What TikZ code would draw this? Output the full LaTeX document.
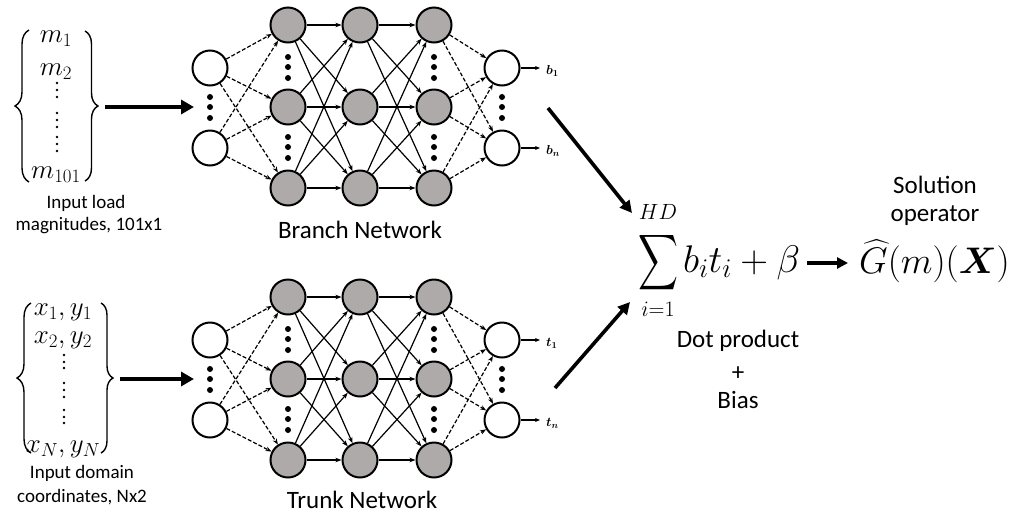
\RequirePackage{fix-cm}
\documentclass[tikz,border=0pt]{standalone}
\usepackage{amsmath}
\usepackage{bm}
\usepackage[no-math]{fontspec}
\setmainfont{Carlito}
\usetikzlibrary{arrows.meta,decorations.pathreplacing}
\definecolor{hid}{RGB}{174,170,170}
\begin{document}
\begin{tikzpicture}[x=1pt,y=-1pt,
  neuron/.style={circle, draw, line width=2pt, minimum size=35pt, inner sep=0pt, fill=white},
  hidden/.style={neuron, fill=hid},
  edge/.style={line width=1.2pt, -{Stealth[length=6pt,width=4.5pt]}},
  dedge/.style={edge, dash pattern=on 4pt off 2pt},
  bigarrow/.style={line width=4pt, -{Triangle[length=13pt,width=14pt]}},
  sumarrow/.style={line width=3.6pt, -{Triangle[length=12pt,width=12pt]}},
  outarrow/.style={line width=1.2pt, -{Stealth[length=5pt,width=4pt]}},
  lbl/.style={font=\fontsize{25}{30}\selectfont, inner sep=0pt, anchor=base},
  small/.style={font=\fontsize{19}{22}\selectfont, inner sep=0pt, anchor=base},
  vec/.style={font=\fontsize{27}{30}\selectfont, inner sep=0pt, anchor=base},
  outl/.style={font=\fontsize{13}{15}\selectfont, inner sep=0pt, anchor=west},
  brc/.style={decorate, line width=1.4pt},
  vdot/.style={fill, circle, inner sep=0pt, minimum size=2.8pt},
  bdot/.style={fill, circle, inner sep=0pt, minimum size=6pt}
]
\useasboundingbox (0,0) rectangle (1014,515);

% ---------- networks ----------
\foreach \n/\o/\l in {B/0/b, T/272/t}{
  \node[neuron] (\n0a) at (210,68+\o) {};
  \node[neuron] (\n0b) at (210,148+\o) {};
  \foreach \k/\x in {1/288,2/360,3/434}{
    \node[hidden] (\n\k a) at (\x,25+\o) {};
    \node[hidden] (\n\k b) at (\x,107+\o) {};
    \node[hidden] (\n\k c) at (\x,188+\o) {};
  }
  \node[neuron] (\n4a) at (502,68+\o) {};
  \node[neuron] (\n4b) at (502,148+\o) {};
  % edges
  \foreach \i in {a,b}{
    \foreach \j in {a,b,c}{
      \draw[dedge] (\n0\i) -- (\n1\j);
      \draw[dedge] (\n3\j) -- (\n4\i);
    }
  }
  \foreach \i in {a,b,c}{
    \foreach \j in {a,b,c}{
      \draw[edge] (\n1\i) -- (\n2\j);
      \draw[edge] (\n2\i) -- (\n3\j);
    }
  }
  % dots
  \foreach \y in {97,107,118}{
    \node[bdot] (\n d0\y) at (210,\y+\o) {};
    \node[bdot] (\n d4\y) at (502,\y+\o) {};
  }
  \foreach \y in {57,67,78,137,147,158}{
    \node[bdot] (\n d1\y) at (288,\y+\o) {};
    \node[bdot] (\n d3\y) at (434,\y+\o) {};
  }
  % outputs
  \coordinate (\n oa) at (540,68+\o);
  \coordinate (\n ob) at (540,148+\o);
  \draw[outarrow] (\n4a) -- (\n oa);
  \draw[outarrow] (\n4b) -- (\n ob);
  \node[outl] (\n la) at (546,71+\o) {$\bm{\l}_{\bm{1}}$};
  \node[outl] (\n lb) at (546,151+\o) {$\bm{\l}_{\bm{n}}$};
}

\node[lbl] (bn) at (360,238) {Branch Network};
\node[lbl] (tn) at (362,508) {Trunk Network};

% ---------- input vector 1 ----------
\node[vec] (m1) at (56,42) {$m_1$};
\node[vec] (m2) at (56,75) {$m_2$};
\node[vec] (m101) at (56,178) {$m_{101}$};
\foreach \y in {83,90,97,113,120,127,137,144,151}{
  \node[vdot] (mv\y) at (57,\y) {};
}
\draw[brc, decoration={brace, amplitude=14pt}] (29,182) -- (29,30);
\draw[brc, decoration={brace, amplitude=13pt}] (85,31) -- (85,181);
\node[small] (il1) at (86,208) {Input load};
\node[small] (il2) at (89,230) {magnitudes, 101x1};
\coordinate (a1s) at (105,107);
\coordinate (a1e) at (194,107);
\draw[bigarrow] (a1s) -- (a1e);

% ---------- input vector 2 ----------
\node[vec] (x1) at (63,315) {$x_1,y_1$};
\node[vec] (x2) at (63,343) {$x_2,y_2$};
\node[vec] (xN) at (63,452) {$x_N,y_N$};
\foreach \y in {355,362,368,383,390,397,410,417,423}{
  \node[vdot] (xv\y) at (64,\y) {};
}
\draw[brc, decoration={brace, amplitude=14pt}] (31,453) -- (31,303);
\draw[brc, decoration={brace, amplitude=12pt}] (101,303) -- (101,453);
\node[small] (id1) at (82,478) {Input domain};
\node[small] (id2) at (82,502) {coordinates, Nx2};
\coordinate (a2s) at (120,379);
\coordinate (a2e) at (194,379);
\draw[bigarrow] (a2s) -- (a2e);

% ---------- dot product ----------
\node[inner sep=0pt] (sum) at (658,263) {\resizebox*{40pt}{62pt}{$\displaystyle\sum$}};
\node[font=\fontsize{22}{24}\selectfont, inner sep=0pt] (HD) at (658,212) {$HD$};
\node[font=\fontsize{22}{24}\selectfont, inner sep=0pt] (i1) at (658,309) {$i{=}1$};
\node[font=\fontsize{38.5}{42}\selectfont, inner sep=0pt, anchor=base west] (body) at (683,272) {$b_it_i+\beta$};
\coordinate (bs) at (548,108);
\coordinate (be) at (632,213);
\draw[sumarrow] (bs) -- (be);
\coordinate (ts) at (555,388);
\coordinate (te) at (630,302);
\draw[sumarrow] (ts) -- (te);
\node[lbl] (dp1) at (738,347) {Dot product};
\node[lbl] (dp2) at (738,380) {+};
\node[lbl] (dp3) at (738,408) {Bias};

% ---------- output ----------
\coordinate (gs) at (807,263);
\coordinate (ge) at (848,263);
\draw[line width=3.2pt, -{Triangle[length=11pt,width=11pt]}] (gs) -- (ge);
\node[font=\fontsize{37}{40}\selectfont, inner sep=0pt, anchor=base west] (G) at (859,273) {$\widehat{G}(m)(\bm{X})$};
\node[lbl] (so1) at (935,193) {Solution};
\node[lbl] (so2) at (935,221) {operator};
\end{tikzpicture}
\end{document}
